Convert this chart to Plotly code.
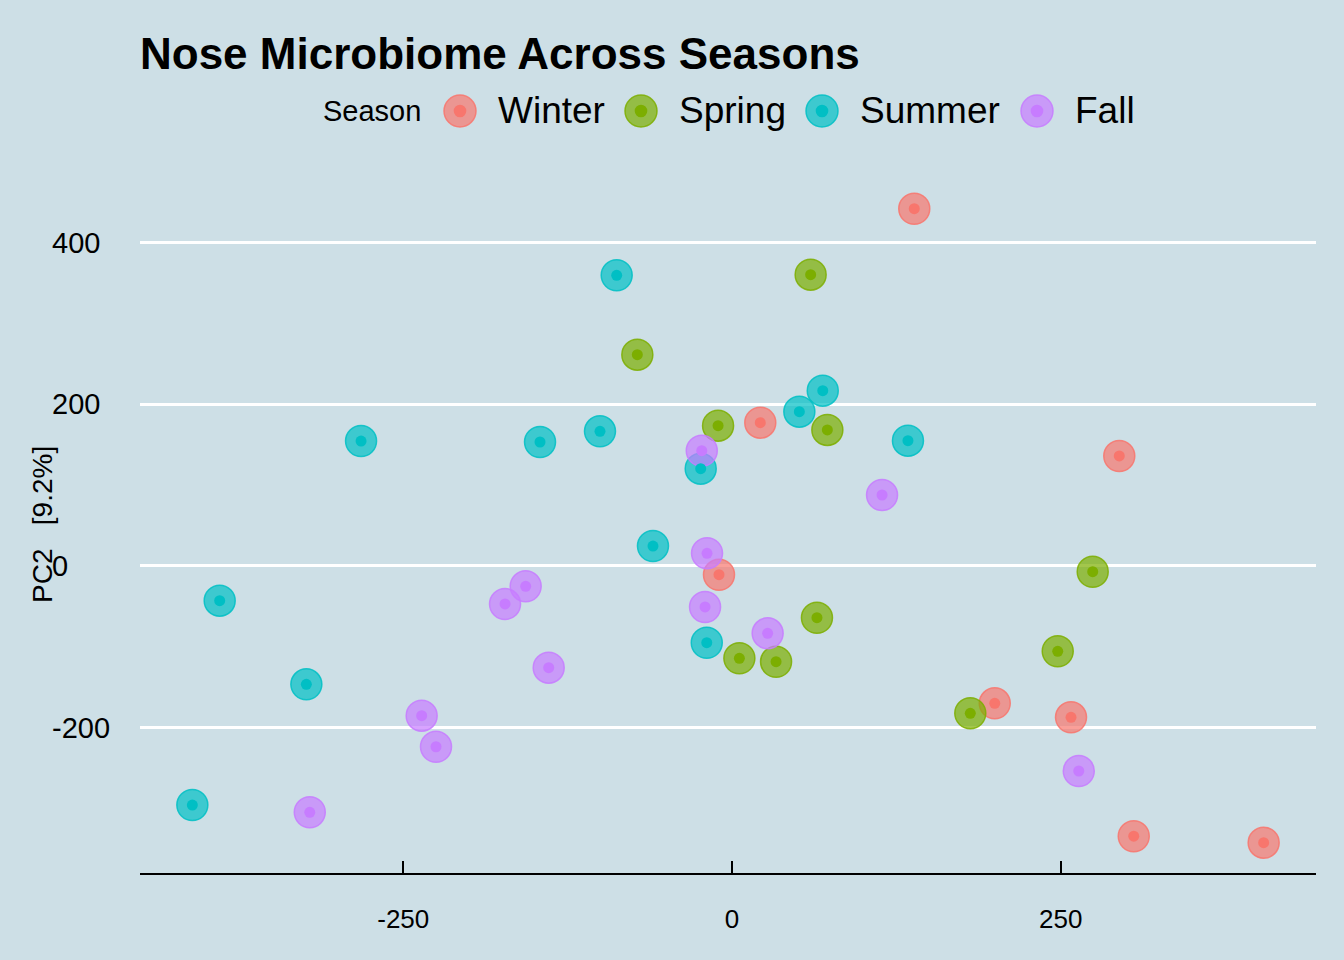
import plotly.graph_objects as go

# ---------------- data ----------------
seasons = ["Winter", "Spring", "Summer", "Fall"]
colors = ["#F8766D", "#7CAE00", "#00BFC4", "#C77CFF"]

winter_pc1 = [138.6, 21.5, 294.5, -9.9, 199.8, 257.8, 305.5, 404.3]
winter_pc2 = [442.0, 177.3, 136.1, -10.8, -169.9, -187.2, -334.3, -342.3]

spring_pc1 = [59.8, -72.0, -10.6, 72.5, 274.3, 64.6, 247.7, 5.6, 33.5, 181.2]
spring_pc2 = [360.4, 261.4, 173.6, 168.3, -7.1, -64.0, -105.5, -114.2, -118.4, -182.2]

summer_pc1 = [-87.7, 69.0, 51.2, -100.4, -282.1, -146.0, 133.8, -23.8, -60.1,
              -389.6, -19.2, -323.7, -410.4]
summer_pc2 = [359.6, 216.9, 190.9, 166.6, 154.6, 153.4, 155.0, 120.4, 24.7,
              -42.9, -94.9, -146.4, -295.7]

fall_pc1 = [-23.0, 114.1, -19.0, -156.9, -172.6, -20.5, 27.1, -139.4, -236.0,
            -225.1, 263.7, -321.1]
fall_pc2 = [142.6, 87.8, 15.7, -25.1, -47.0, -50.7, -83.3, -125.8, -185.2,
            -223.6, -253.6, -304.7]

x_ticks = [-250, 0, 250]
x_tick_labels = ["-250", "0", "250"]
y_ticks = [-200, 0, 200, 400]
y_tick_labels = ["-200", "0", "200", "400"]

title_text = "Nose Microbiome Across Seasons"
y_title = "PC2&nbsp;&nbsp;&nbsp;[9.2%]"
legend_title = "Season"

pc1 = [winter_pc1, spring_pc1, summer_pc1, fall_pc1]
pc2 = [winter_pc2, spring_pc2, summer_pc2, fall_pc2]

# ---------------- style ----------------
BG = "#CDDFE6"
FONT = "Liberation Sans, Arial, Helvetica, sans-serif"
W, H = 1344, 960
ML, MR, MT, MB = 140, 28, 180, 87
PW = W - ML - MR
PH = H - MT - MB


def rgba(hexc, a):
    h = hexc.lstrip("#")
    r, g, b = int(h[0:2], 16), int(h[2:4], 16), int(h[4:6], 16)
    return f"rgba({r},{g},{b},{a})"


fig = go.Figure()

for name, col, xs, ys in zip(seasons, colors, pc1, pc2):
    fig.add_trace(go.Scatter(
        x=xs, y=ys, mode="markers", name=name, legendgroup=name,
        marker=dict(size=31, color=rgba(col, 0.7),
                    line=dict(width=1.5, color=rgba(col, 0.85))),
        showlegend=False, hoverinfo="skip",
    ))
for name, col, xs, ys in zip(seasons, colors, pc1, pc2):
    fig.add_trace(go.Scatter(
        x=xs, y=ys, mode="markers", name=name, legendgroup=name,
        marker=dict(size=11, color=col, line=dict(width=0)),
        showlegend=False,
    ))


def px_to_paper_x(px):
    return (px - ML) / PW


def px_to_paper_y(py):
    return (H - MB - py) / PH


annotations = []
shapes = []

# y tick labels, left aligned like the original theme
for v, lab in zip(y_ticks, y_tick_labels):
    annotations.append(dict(
        x=px_to_paper_x(50), xref="paper", y=v, yref="y", text=lab,
        showarrow=False, xanchor="left", yanchor="middle",
        font=dict(family=FONT, size=29, color="black"),
    ))

# y axis title
annotations.append(dict(
    x=px_to_paper_x(42), xref="paper", y=px_to_paper_y(525), yref="paper",
    text=y_title, textangle=-90, showarrow=False,
    xanchor="center", yanchor="middle",
    font=dict(family=FONT, size=28, color="black"),
))

# legend (manual, horizontal)
leg_y = px_to_paper_y(111)
annotations.append(dict(
    x=px_to_paper_x(423), xref="paper", y=leg_y, yref="paper",
    text=legend_title, showarrow=False, xanchor="right", yanchor="middle",
    font=dict(family=FONT, size=29, color="black"),
))
sym_x = [460, 641, 822, 1037]
for name, col, sx in zip(seasons, colors, sym_x):
    for d, fill, lw in [(16, rgba(col, 0.7), 1.5), (6.3, col, 0)]:
        shapes.append(dict(
            type="circle", xref="paper", yref="paper",
            xsizemode="pixel", ysizemode="pixel",
            xanchor=px_to_paper_x(sx), yanchor=leg_y,
            x0=-d, x1=d, y0=-d, y1=d,
            fillcolor=fill,
            line=dict(width=lw, color=rgba(col, 0.85)),
        ))
    annotations.append(dict(
        x=px_to_paper_x(sx + 36), xref="paper", y=leg_y, yref="paper",
        text=name, showarrow=False, xanchor="left", yanchor="middle",
        font=dict(family=FONT, size=37, color="black"),
    ))

fig.update_layout(
    width=W, height=H,
    paper_bgcolor=BG, plot_bgcolor=BG,
    margin=dict(l=ML, r=MR, t=MT, b=MB, autoexpand=False),
    showlegend=False,
    title=dict(text=f"<b>{title_text}</b>", x=0, xref="paper", xanchor="left",
               y=1 - 54 / H, yref="container", yanchor="middle",
               font=dict(family=FONT, size=44, color="black")),
    font=dict(family=FONT, color="black"),
    annotations=annotations,
    shapes=shapes,
    xaxis=dict(
        range=[-450.2, 444.1], tickvals=x_ticks, ticktext=x_tick_labels,
        showgrid=False, zeroline=False,
        showline=True, linecolor="black", linewidth=1.5,
        ticks="inside", ticklen=12, tickwidth=1.5, tickcolor="black",
        tickfont=dict(family=FONT, size=26, color="black"),
        ticklabelstandoff=22,
    ),
    yaxis=dict(
        range=[-379.8, 477.5], tickvals=y_ticks, showticklabels=False,
        showgrid=True, gridcolor="white", gridwidth=3,
        zeroline=True, zerolinecolor="white", zerolinewidth=3,
        showline=False, ticks="",
    ),
)

fig.write_html(
    "out.html",
    config={"displayModeBar": False},
    post_script=("document.body.style.margin='0';"
                 "document.body.style.padding='0';"
                 "document.body.style.overflow='hidden';"),
)
